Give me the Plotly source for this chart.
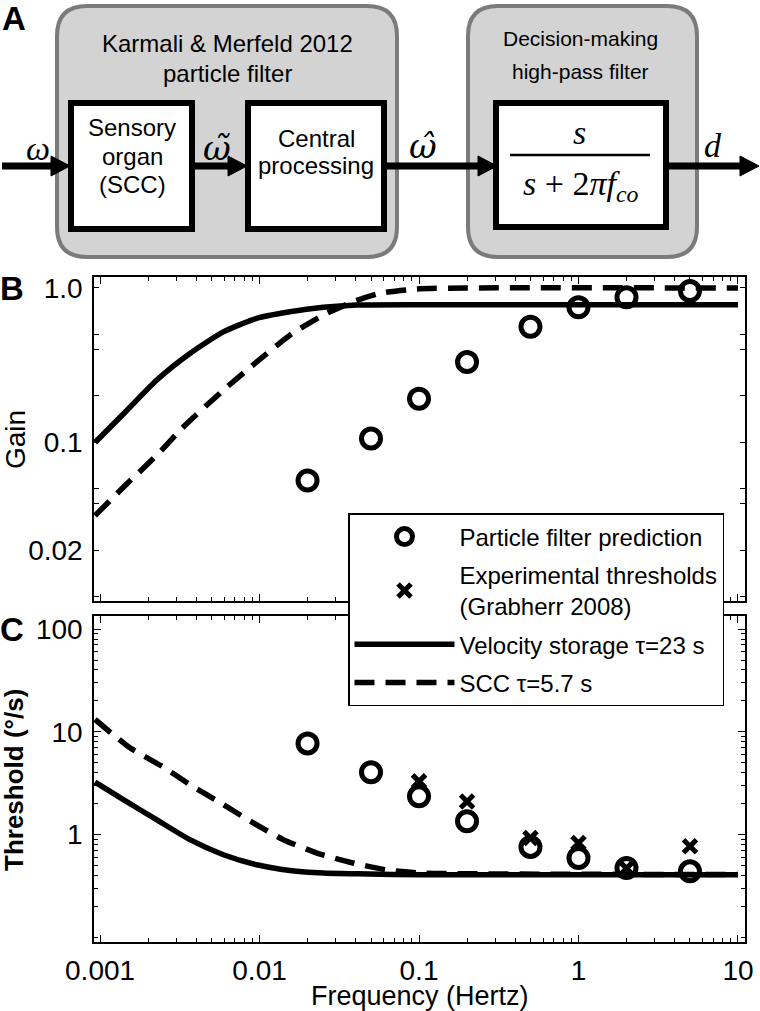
import plotly.graph_objects as go

# ---- values ----
# panel B: gain
vs_gain_freq = [0.00093, 0.0014, 0.00226, 0.00366, 0.00593, 0.0096, 0.0155, 0.0251, 0.0407, 0.106, 10]
vs_gain = [0.100, 0.153, 0.253, 0.377, 0.520, 0.636, 0.701, 0.749, 0.776, 0.780, 0.780]

scc_gain_freq = [0.00093, 0.0014, 0.00226, 0.00333, 0.00593, 0.0096, 0.0155, 0.0251, 0.0387, 0.0569, 0.0968, 0.2, 10]
scc_gain = [0.0336, 0.0513, 0.0824, 0.126, 0.218, 0.332, 0.495, 0.668, 0.815, 0.924, 0.985, 1.0, 1.0]

pf_freq = [0.02, 0.05, 0.1, 0.2, 0.5, 1, 2, 5]
pf_gain = [0.0567, 0.106, 0.192, 0.332, 0.561, 0.749, 0.870, 0.956]

# panel C: threshold
pf_thresh = [7.72, 4.05, 2.36, 1.35, 0.76, 0.593, 0.473, 0.44]

exp_freq = [0.1, 0.2, 0.5, 1, 2, 5]
exp_thresh = [3.3, 2.1, 0.93, 0.83, 0.47, 0.77]

vs_thr_freq = [0.00093, 0.0014, 0.00226, 0.00366, 0.00593, 0.0096, 0.0155, 0.0251, 0.0407, 0.106, 10]
vs_thr = [3.25, 2.19, 1.40, 0.894, 0.638, 0.51, 0.449, 0.423, 0.416, 0.407, 0.407]

scc_thr_freq = [0.00093, 0.00154, 0.00244, 0.00366, 0.00593, 0.00914, 0.0141, 0.0229, 0.0387, 0.0658, 0.106, 10]
scc_thr = [13.2, 7.0, 4.64, 3.07, 1.96, 1.30, 0.894, 0.663, 0.53, 0.449, 0.423, 0.41]

# ticks
x_ticks = [0.001, 0.01, 0.1, 1, 10]
x_ticktext = ["0.001", "0.01", "0.1", "1", "10"]
x_minor = [m * d for d in [0.001, 0.01, 0.1, 1] for m in range(2, 10)]
gain_ticks = [0.02, 0.1, 1.0]
gain_ticktext = ["0.02", "0.1", "1.0"]
gain_minor = [0.01, 0.04, 0.05, 0.2, 0.4, 0.5]
thr_ticks = [1, 10, 100]
thr_ticktext = ["1", "10", "100"]
thr_minor = [m * d for d in [0.1, 1, 10] for m in range(2, 10)] + [0.1]

SANS = "Liberation Sans, Arial, sans-serif"
SERIF = "Liberation Serif, Times New Roman, serif"
W, H = 760, 1011


def px(x):
    return x / W


def py(y):
    return 1 - y / H


fig = go.Figure()

dash = "20px,11px"
lw = 5.5
smooth = 0.6

# lines
fig.add_trace(go.Scatter(x=vs_gain_freq, y=vs_gain, mode="lines",
                         line=dict(color="black", width=lw, shape="spline", smoothing=smooth),
                         xaxis="x", yaxis="y", showlegend=False, legendgroup="vs"))
fig.add_trace(go.Scatter(x=scc_gain_freq, y=scc_gain, mode="lines",
                         line=dict(color="black", width=lw, dash=dash, shape="spline", smoothing=smooth),
                         xaxis="x", yaxis="y", showlegend=False, legendgroup="scc"))
fig.add_trace(go.Scatter(x=vs_thr_freq, y=vs_thr, mode="lines", name="Velocity storage τ=23 s",
                         line=dict(color="black", width=lw, shape="spline", smoothing=smooth),
                         xaxis="x2", yaxis="y2", legendgroup="vs", legendrank=3))
fig.add_trace(go.Scatter(x=scc_thr_freq, y=scc_thr, mode="lines", name="SCC τ=5.7 s",
                         line=dict(color="black", width=lw, dash=dash, shape="spline", smoothing=smooth),
                         xaxis="x2", yaxis="y2", legendgroup="scc", legendrank=4))

# markers
circ = dict(symbol="circle-open", size=19, color="black", line=dict(width=5, color="black"))
fig.add_trace(go.Scatter(x=pf_freq, y=pf_gain, mode="markers", marker=circ,
                         xaxis="x", yaxis="y", showlegend=False, legendgroup="pf"))
fig.add_trace(go.Scatter(x=exp_freq, y=exp_thresh, mode="markers", name="Experimental thresholds<br>(Grabherr 2008)",
                         marker=dict(symbol="x-thin-open", size=13, color="black", line=dict(width=5, color="black")),
                         xaxis="x2", yaxis="y2", legendgroup="exp", legendrank=2))
fig.add_trace(go.Scatter(x=pf_freq, y=pf_thresh, mode="markers", name="Particle filter prediction", marker=circ,
                         xaxis="x2", yaxis="y2", legendgroup="pf", legendrank=1))

xdom = [px(94), px(745)]
axis_common = dict(type="log", showline=True, linecolor="black", linewidth=1.5, mirror="ticks",
                   ticks="inside", ticklen=7, tickwidth=1.2, tickcolor="black", showgrid=False,
                   automargin=False, tickfont=dict(family=SANS, size=28, color="black"))
xr = [-3.038, 1.044]
minor_x = dict(tickvals=x_minor, ticks="inside", ticklen=4, tickcolor="black", tickwidth=1)

fig.update_layout(
    xaxis=dict(axis_common, domain=xdom, range=xr, anchor="y", tickvals=x_ticks, showticklabels=False,
               minor=minor_x),
    yaxis=dict(axis_common, domain=[py(601), py(277)], range=[-2.026, 0.071], anchor="x",
               tickvals=gain_ticks, ticktext=gain_ticktext, ticklen=5, ticklabelstandoff=4,
               minor=dict(tickvals=gain_minor, ticks="inside", ticklen=5, tickcolor="black", tickwidth=1.2)),
    xaxis2=dict(axis_common, domain=xdom, range=xr, anchor="y2", tickvals=x_ticks, ticktext=x_ticktext,
                ticklabelstandoff=3, minor=minor_x),
    yaxis2=dict(axis_common, domain=[py(942), py(616)], range=[-1.044, 2.127], anchor="x2",
                tickvals=thr_ticks, ticktext=thr_ticktext, ticklabelstandoff=4,
                minor=dict(tickvals=thr_minor, ticks="inside", ticklen=4, tickcolor="black", tickwidth=1)),
)

# ---- block diagram (panel A), drawn in pixel units converted to paper ----
shapes = []


def rounded(x0, y0, x1, y1, r):
    pts = [("M", x0 + r, y0), ("L", x1 - r, y0), ("Q", x1, y0, x1, y0 + r), ("L", x1, y1 - r),
           ("Q", x1, y1, x1 - r, y1), ("L", x0 + r, y1), ("Q", x0, y1, x0, y1 - r), ("L", x0, y0 + r),
           ("Q", x0, y0, x0 + r, y0)]
    out = []
    for p in pts:
        coords = p[1:]
        s = " ".join(f"{px(coords[i]):.5f},{py(coords[i + 1]):.5f}" for i in range(0, len(coords), 2))
        out.append(p[0] + s)
    return " ".join(out) + " Z"


for (x0, y0, x1, y1) in [(57, 6, 397, 257), (468, 6, 697, 257)]:
    shapes.append(dict(type="path", path=rounded(x0, y0, x1, y1, 30), xref="paper", yref="paper",
                       fillcolor="#d3d3d3", line=dict(color="#7b7b7b", width=4)))
for (x0, y0, x1, y1) in [(71, 103, 192, 229), (248, 103, 384, 229), (496, 103, 666, 227)]:
    shapes.append(dict(type="rect", x0=px(x0), y0=py(y0), x1=px(x1), y1=py(y1), xref="paper", yref="paper",
                       fillcolor="white", line=dict(color="black", width=6)))

ay = 166
for (x0, x1) in [(2, 70), (192, 247), (384, 497), (666, 759)]:
    shapes.append(dict(type="line", x0=px(x0), y0=py(ay), x1=px(x1 - 14), y1=py(ay), xref="paper", yref="paper",
                       line=dict(color="black", width=7)))
    head = (f"M{px(x1 - 19):.5f},{py(ay - 10):.5f} L{px(x1):.5f},{py(ay):.5f} "
            f"L{px(x1 - 19):.5f},{py(ay + 10):.5f} Z")
    shapes.append(dict(type="path", path=head, xref="paper", yref="paper", fillcolor="black",
                       line=dict(color="black", width=1)))
# fraction bar
shapes.append(dict(type="line", x0=px(510), y0=py(155), x1=px(650), y1=py(155), xref="paper", yref="paper",
                   line=dict(color="black", width=2.5)))
fig.update_layout(shapes=shapes)

ann = []


def txt(t, x, y, size, family=SANS, **kw):
    ann.append(dict(text=t, x=px(x), y=py(y), xref="paper", yref="paper", showarrow=False, xanchor="center",
                    yanchor="middle", font=dict(family=family, size=size, color="black"), **kw))


txt("Karmali & Merfeld 2012", 227, 44, 24)
txt("particle filter", 227, 73, 24)
txt("Sensory", 132, 128, 24)
txt("organ", 132, 156, 24)
txt("(SCC)", 132, 184, 24)
txt("Central", 316, 138, 24)
txt("processing", 316, 166, 24)
txt("Decision-making", 580, 38, 21)
txt("high-pass filter", 580, 71, 21)
txt("<i>ω</i>", 38, 148, 34, SERIF)
txt("<i>ω\u0303</i>", 217, 148, 34, "DejaVu Serif, serif")
txt("<i>ω\u0302</i>", 423, 146, 34, "DejaVu Serif, serif")
txt("<i>d</i>", 713, 145, 34, SERIF)
txt("<i>s</i>", 579, 132, 34, SERIF)
txt("<i>s</i> + 2<i>πf</i><sub><i>co</i></sub>", 580, 186, 34, SERIF)

# panel letters and axis titles
txt("<b>A</b>", 14, 19, 33)
txt("<b>B</b>", 12, 288, 33)
txt("<b>C</b>", 12, 629, 33)
txt("Gain", 15, 440, 28, textangle=-90)
txt("<b>Threshold (°/s)</b>", 14, 780, 26, textangle=-90)
txt("Frequency (Hertz)", 420, 996, 27)
fig.update_layout(annotations=ann)

fig.update_layout(
    width=W, height=H, margin=dict(l=0, r=0, t=0, b=0, autoexpand=False),
    paper_bgcolor="white", plot_bgcolor="white",
    legend=dict(x=px(348), y=py(513), xanchor="left", yanchor="top", bgcolor="white",
                bordercolor="black", borderwidth=1.5, font=dict(family=SANS, size=24, color="black"),
                itemwidth=100, traceorder="grouped", tracegroupgap=4),
)

# the page body has a default 8px margin; drop it so the figure fills the window
fig.write_html("out.html", config={"displayModeBar": False},
               post_script="document.body.style.margin='0';")
